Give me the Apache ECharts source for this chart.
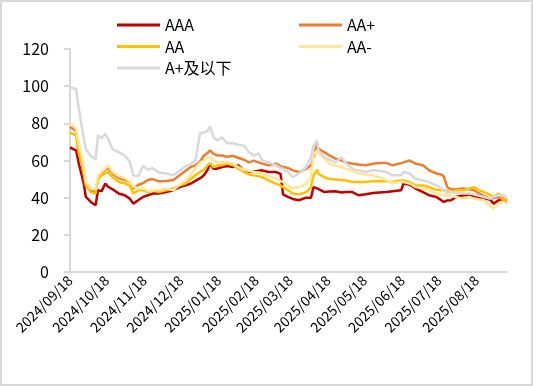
<!DOCTYPE html>
<html><head><meta charset="utf-8">
<script src="https://cdn.jsdelivr.net/npm/echarts@6/dist/echarts.min.js"></script>
<style>html,body{margin:0;padding:0;background:#fff}#c{width:533px;height:386px}</style>
</head><body><div id="c"></div>
<script>
const dates = ["2024-09-18","2024-09-23","2024-09-25","2024-09-29","2024-10-01","2024-10-05","2024-10-09","2024-10-11","2024-10-14","2024-10-17","2024-10-19","2024-10-23","2024-10-28","2024-11-02","2024-11-06","2024-11-09","2024-11-13","2024-11-17","2024-11-21","2024-11-25","2024-11-30","2024-12-06","2024-12-12","2024-12-17","2024-12-22","2024-12-26","2024-12-30","2025-01-03","2025-01-06","2025-01-09","2025-01-11","2025-01-14","2025-01-17","2025-01-21","2025-01-25","2025-01-30","2025-02-03","2025-02-08","2025-02-12","2025-02-16","2025-02-20","2025-02-23","2025-02-28","2025-03-06","2025-03-10","2025-03-12","2025-03-16","2025-03-20","2025-03-25","2025-03-31","2025-04-04","2025-04-06","2025-04-09","2025-04-10","2025-04-15","2025-04-19","2025-04-24","2025-04-29","2025-05-03","2025-05-08","2025-05-13","2025-05-19","2025-05-25","2025-05-30","2025-06-05","2025-06-10","2025-06-17","2025-06-19","2025-06-24","2025-06-29","2025-07-05","2025-07-10","2025-07-16","2025-07-20","2025-07-22","2025-07-25","2025-07-28","2025-08-01","2025-08-07","2025-08-12","2025-08-16","2025-08-20","2025-08-24","2025-08-29","2025-09-01","2025-09-05","2025-09-09","2025-09-12"];
const AAA = [67,65.5,59,48.5,40.5,37.7,35.9,44,43.5,47.6,46,44.5,42.2,41.3,39.5,36.8,38.6,40.4,41.3,42.2,42.2,43,44,45.7,46.6,47.5,49,50.5,52,55,58.3,55.6,55.6,56.5,57,56.5,57.4,54.7,54,54,54.5,54.7,53.8,53.8,52.8,41.8,40.4,39.3,38.6,40,40,45.7,45,44,43,43.3,43.5,42.8,43,43,41.3,41.8,42.5,42.8,43,43.5,44,47.6,47,44.9,43,41.3,40.4,38.6,37.7,38.5,38.6,40.4,41.3,41.3,40.4,40,39.5,39,36.8,38.6,39.5,38.6];
const AAplus = [78,76,64,56,48,44,43,50,53,55,56,53,50.5,49.5,48.5,45,46.8,47.8,49.5,50,48.8,49,49.5,52,54.5,56.5,57.4,59.6,62.7,64,65.4,63.6,62.7,62.7,62,62.5,61.5,60.4,59,59.9,59,58.3,57.4,58.3,57,56.5,56,54.7,53.8,55.6,57.4,61.8,69,66.3,64.5,62.7,61,60,59,58.3,57.8,57.4,58.3,58.6,58.6,57.4,58.6,59,60,58.3,57.4,54.7,53,52.5,51.5,45.5,44.5,44.5,44.9,44.5,44,42.2,41,39.5,39.8,40.4,38.6,37.7];
const AA = [75,73.5,66,54,46.5,43,42.2,50.2,52,53,53.8,51,48.4,47.6,46.6,42.2,44,44,43,44,43,44,44.9,46.6,47.6,50,52,54,55,57.4,58.4,56.5,57.4,57.4,58.3,57.4,55.6,53.8,52.5,52,51.5,51,49.3,47.6,46.5,45.7,44,42.2,41.8,43,45.7,52,55,52.8,51,50,49.8,49.5,49.3,48.4,48.4,48.4,48.9,48.9,48.9,48.4,49.3,49.3,48.4,46.6,46.6,45.7,44.2,44,44,43.5,43,44,44,44.9,45.7,44,43,41.5,40.4,42.2,39.5,38.6];
const AAminus = [80.5,77,70,58,48.5,44.9,44.5,52,53.8,55.6,57.4,53.8,51.5,50.5,48.5,46,45,45,43.5,44,44,44.9,44,47,49.3,52,56,59,60,61.8,61.5,60,59,59,59,58.3,56.5,55,54.5,53.8,53.5,53,51.5,50.5,49,48.4,46.5,44.9,45.7,47.6,51,63.6,65.4,64,61,58.3,57.2,56.5,55.5,54.5,53,52.5,52,51,49.3,47.9,48.5,48.4,47.6,45.7,44.9,44,42.2,41.5,41.3,41.3,41,40.4,39.5,40.4,39.5,39,38.6,35.9,34.2,36.8,37.7,36.8];
const Aplus = [99.5,98.5,89,73,66,62.7,60.5,73.5,72,74.5,72,66,64.5,62.7,59.5,52,51.5,57,55,55.8,53.6,53,52,54.5,57,58,60,75,75,76,78.3,72.5,70.8,72.5,69.3,69.3,68.5,68,64.5,62.7,63.8,60,59,57.4,56,55.6,54,51,53,56.5,61.8,68,70.8,65.4,61.8,60.5,59,61.8,58.3,55.5,54.7,54,54.7,54.5,53.8,52,52,53.8,53,50.2,49.3,48.4,46.6,45.2,44,42.5,43,42.5,42.2,42.2,41.8,41,40.4,39.5,40.5,41.3,41.3,40.4];
const tickDates = ["2024-09-18","2024-10-18","2024-11-18","2024-12-18","2025-01-18","2025-02-18","2025-03-18","2025-04-18","2025-05-18","2025-06-18","2025-07-18","2025-08-18"];
const yTicks = [0,20,40,60,80,100,120];

function ts(s){const p=s.split('-').map(Number);return Date.UTC(p[0],p[1]-1,p[2]);}
function pairs(v){return dates.map((d,i)=>[ts(d),v[i]]);}
function fmt(t){const d=new Date(t);const p=n=>String(n).padStart(2,'0');return d.getUTCFullYear()+'/'+p(d.getUTCMonth()+1)+'/'+p(d.getUTCDate());}

const font = "'Microsoft YaHei','Noto Sans CJK SC','Noto Sans',sans-serif";
const chart = echarts.init(document.getElementById('c'), null, {renderer:'canvas'});
const mk = (name, data, color) => ({name, type:'line', data:pairs(data), showSymbol:false, symbol:'none', lineStyle:{color, width:2.5}, itemStyle:{color}, animation:false});
chart.setOption({
  animation:false,
  textStyle:{fontFamily:font},
  graphic:[{type:'rect', shape:{x:1,y:1,width:531,height:384}, style:{fill:'none', stroke:'#D9D9D9', lineWidth:2}, silent:true}],
  legend:[
    {orient:'vertical', left:112, top:12, itemWidth:43, itemHeight:3, itemGap:5.5, icon:'rect', data:['AAA','AA','A+及以下'], textStyle:{fontSize:16, color:'#000', fontFamily:font}},
    {orient:'vertical', left:294, top:12, itemWidth:43, itemHeight:3, itemGap:5.5, icon:'rect', data:['AA+','AA-'], textStyle:{fontSize:16, color:'#000', fontFamily:font}}
  ],
  grid:{left:70, right:26, top:49, bottom:114, containLabel:false},
  xAxis:{type:'value', min:ts(dates[0]), max:ts(dates[dates.length-1]), scale:true,
    axisLine:{lineStyle:{color:'#D9D9D9', width:2}}, axisTick:{show:false}, splitLine:{show:false},
    axisLabel:{customValues:tickDates.map(ts), formatter:v=>fmt(v), rotate:45, fontSize:14, color:'#000', margin:6, fontFamily:font, showMinLabel:true, showMaxLabel:true}},
  yAxis:{type:'value', min:yTicks[0], max:yTicks[yTicks.length-1], interval:20,
    axisLine:{show:true, lineStyle:{color:'#D9D9D9', width:2}}, axisTick:{show:true, length:6, lineStyle:{color:'#D9D9D9', width:2}},
    splitLine:{show:false}, axisLabel:{fontSize:16, color:'#000', margin:21, fontFamily:font}},
  series:[
    mk('AAA', AAA, '#C00000'),
    mk('AA+', AAplus, '#ED7D31'),
    mk('AA', AA, '#FFC000'),
    mk('AA-', AAminus, '#FFE699'),
    mk('A+及以下', Aplus, '#D9D9D9')
  ]
});
</script></body></html>
